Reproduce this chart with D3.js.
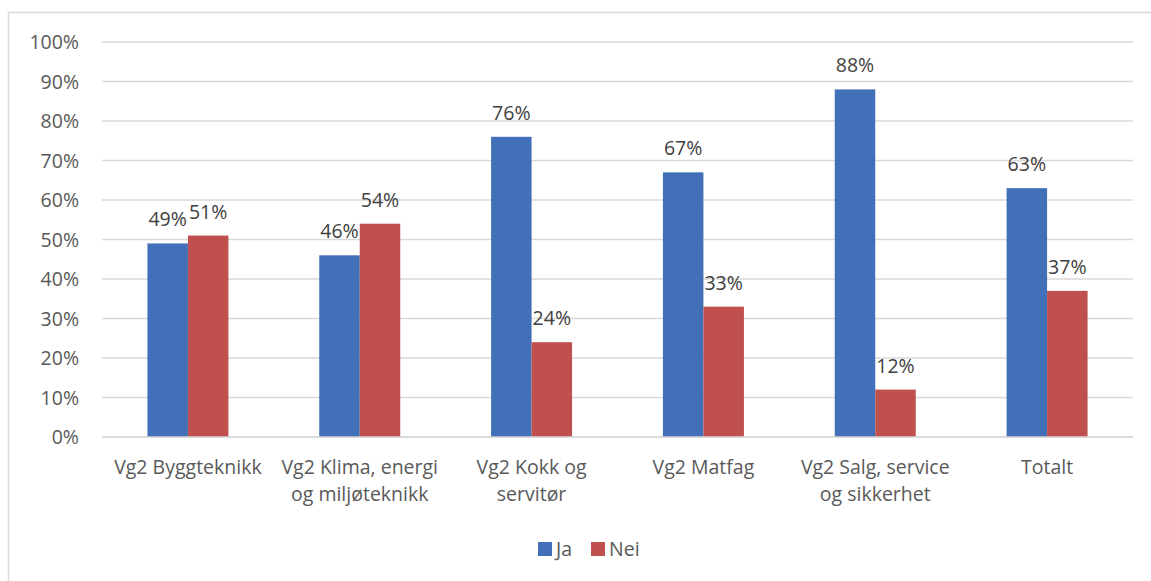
<!DOCTYPE html>
<html><head><meta charset="utf-8">
<script src="https://cdn.jsdelivr.net/npm/d3@7"></script>
<style>body{margin:0;background:#fff}svg{display:block}text{font-family:"Open Sans",sans-serif}</style>
</head><body><svg id="c" width="1151" height="581"></svg>
<script>
const categories = [["Vg2 Byggteknikk"],["Vg2 Klima, energi","og miljøteknikk"],["Vg2 Kokk og","servitør"],["Vg2 Matfag"],["Vg2 Salg, service","og sikkerhet"],["Totalt"]];
const seriesNames = ["Ja","Nei"];
const ja = [49,46,76,67,88,63];
const nei = [51,54,24,33,12,37];
const yTicks = [0,10,20,30,40,50,60,70,80,90,100];
const colors = ["#4270b8","#c0504d"];
const fs = 19.5;

const svg = d3.select("#c");
svg.append("rect").attr("x",8.5).attr("y",12.5).attr("width",1160).attr("height",600)
  .attr("fill","none").attr("stroke","#d9d9d9").attr("stroke-width",1.5);

const x0 = d3.scaleBand().domain(d3.range(categories.length)).range([102,1133]);
const y = d3.scaleLinear().domain([0,100]).range([437,42]);
const bw = 40.5;

const g = svg.append("g");
g.selectAll("line.grid").data(yTicks).join("line")
  .attr("x1",102).attr("x2",1133).attr("y1",d=>y(d)).attr("y2",d=>y(d))
  .attr("stroke","#d9d9d9").attr("stroke-width",1.3);
g.selectAll("text.yt").data(yTicks).join("text")
  .attr("x",79).attr("y",d=>y(d)).attr("dy","0.36em").attr("text-anchor","end")
  .attr("fill","#595959").attr("font-size",fs).text(d=>d+"%");

const series = [ja, nei];
series.forEach((vals,si)=>{
  vals.forEach((v,i)=>{
    const cx = x0(i)+x0.bandwidth()/2;
    const xl = cx - bw + si*bw;
    g.append("rect").attr("x",xl).attr("y",y(v)).attr("width",bw).attr("height",y(0)-y(v)).attr("fill",colors[si]);
    g.append("text").attr("x",xl+bw/2).attr("y",y(v)-17).attr("text-anchor","middle")
      .attr("fill","#404040").attr("font-size",fs).text(v+"%");
  });
});
g.append("line").attr("x1",102).attr("x2",1133).attr("y1",y(0)).attr("y2",y(0)).attr("stroke","#d9d9d9").attr("stroke-width",1.3);

categories.forEach((lines,i)=>{
  const cx = x0(i)+x0.bandwidth()/2;
  const t = g.append("text").attr("text-anchor","middle").attr("fill","#595959").attr("font-size",fs);
  lines.forEach((l,j)=>t.append("tspan").attr("x",cx).attr("y",474+j*27).text(l));
});

const leg = svg.append("g");
const legX = [538,591];
seriesNames.forEach((n,i)=>{
  leg.append("rect").attr("x",legX[i]).attr("y",542).attr("width",14).attr("height",14).attr("fill",colors[i]);
  leg.append("text").attr("x",legX[i]+18).attr("y",556).attr("fill","#595959").attr("font-size",fs).text(n);
});
</script></body></html>
